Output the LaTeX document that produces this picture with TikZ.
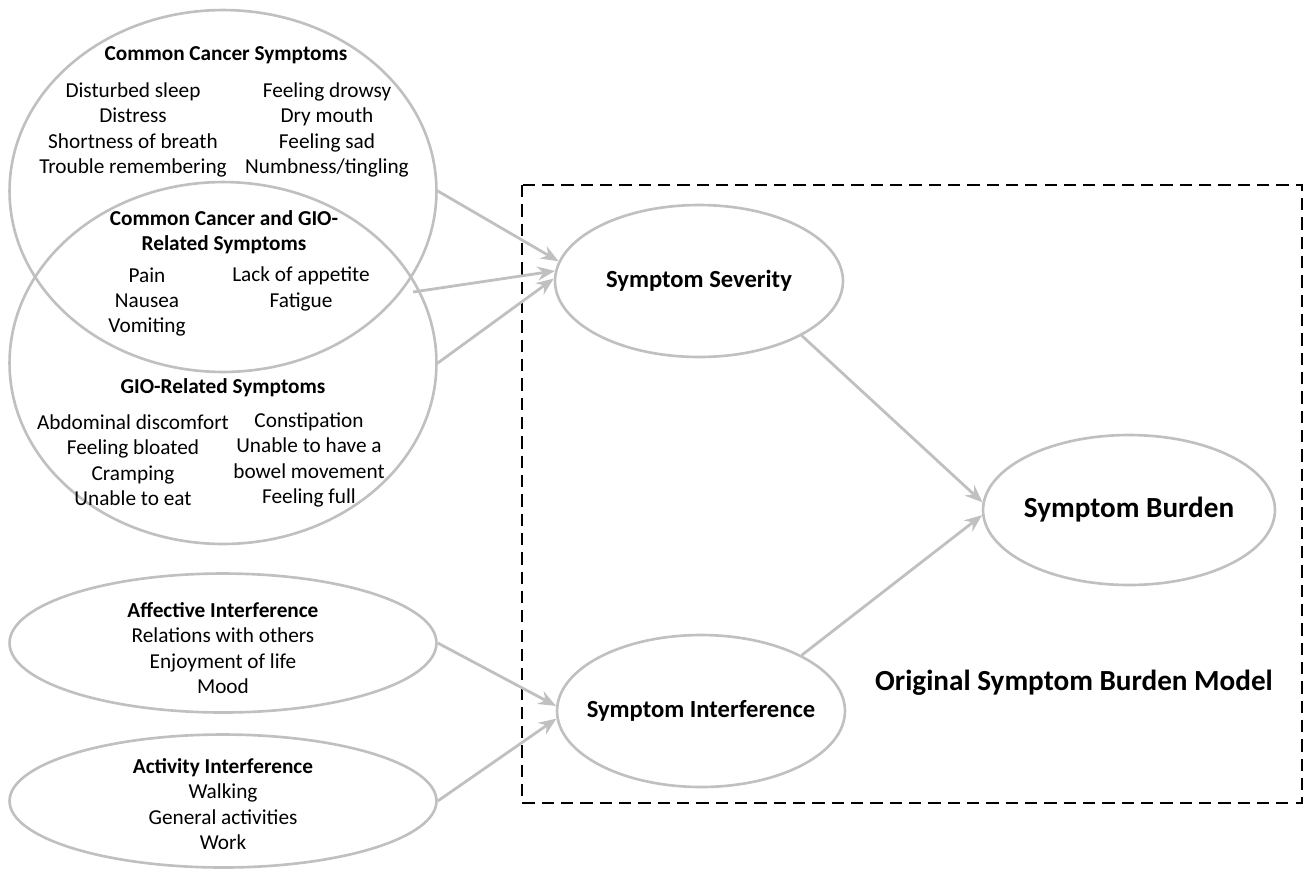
\documentclass[tikz,border=0pt]{standalone}
\usepackage{fontspec}
\setmainfont{Carlito}
\usepackage{xcolor}
\usetikzlibrary{positioning,shapes,arrows.meta}
\definecolor{linegray}{RGB}{192,192,192}
\tikzset{
  blob/.style={shape=ellipse, draw=linegray, line width=1.5pt, inner sep=0pt},
  listtext/.style={align=center, font=\fontsize{12.1}{14.5}\selectfont, inner sep=0pt},
  headtext/.style={align=center, font=\fontsize{12.1}{14.5}\selectfont\bfseries, inner sep=0pt},
  factorname/.style={font=\fontsize{14}{17}\selectfont\bfseries, inner sep=0pt},
  link/.style={draw=linegray, line width=1.6pt, -{Stealth[length=10pt,width=8pt]}},
  modelbox/.style={draw=black, line width=1.1pt, dash pattern=on 7pt off 4pt}
}

\begin{document}
\begin{tikzpicture}[x=0.02cm, y=-0.02cm]
  \useasboundingbox (0,0) rectangle (1304,870);

  % symptom circles
  \node[blob, minimum width=8.54cm, minimum height=7.24cm] (cancer) at (223,191) {};
  \node[blob, minimum width=8.54cm, minimum height=7.24cm] (gio) at (223,363) {};
  \coordinate (lens) at (413,292);

  \node[headtext] (cancerhead) at (226,55) {Common Cancer Symptoms};
  \node[listtext] (cancerL) at (133,130) {Disturbed sleep\\Distress\\Shortness of breath\\Trouble remembering};
  \node[listtext] (cancerR) at (327,130) {Feeling drowsy\\Dry mouth\\Feeling sad\\Numbness/tingling};

  \node[headtext] (bothhead) at (224,232) {Common Cancer and GIO-\\Related Symptoms};
  \node[listtext] (bothL) at (147,302) {Pain\\Nausea\\Vomiting};
  \node[listtext] (bothR) at (301,289) {Lack of appetite\\Fatigue};

  \node[headtext] (giohead) at (223,388) {GIO-Related Symptoms};
  \node[listtext] (gioL) at (133,460) {Abdominal discomfort\\Feeling bloated\\Cramping\\Unable to eat};
  \node[listtext] (gioR) at (309,460) {Constipation\\Unable to have a\\bowel movement\\Feeling full};

  % interference ellipses
  \node[blob, minimum width=8.54cm, minimum height=2.78cm] (affect) at (223,643) {};
  \node[listtext] (affecttext) at (223,648) {\textbf{Affective Interference}\\Relations with others\\Enjoyment of life\\Mood};
  \node[blob, minimum width=8.54cm, minimum height=2.66cm] (activity) at (223,801) {};
  \node[listtext] (activitytext) at (223,804) {\textbf{Activity Interference}\\Walking\\General activities\\Work};

  % original model
  \draw[modelbox] (522,185) rectangle (1302,803);
  \node[blob, minimum width=5.76cm, minimum height=3.04cm,
        label={[factorname]center:Symptom Severity}] (sev) at (699,281) {};
  \node[blob, minimum width=5.76cm, minimum height=3.04cm,
        label={[factorname]center:Symptom Interference}] (inter) at (701,711) {};
  \node[blob, minimum width=5.84cm, minimum height=3.0cm,
        label={[factorname, font=\fontsize{16.6}{20}\selectfont\bfseries]center:Symptom Burden}] (burden) at (1129,510) {};
  \node[font=\fontsize{16.6}{20}\selectfont\bfseries] (modelname) at (1074,683) {Original Symptom Burden Model};

  \draw[link] (cancer.east) -- (sev.172);
  \draw[link] (lens) -- (sev.176);
  \draw[link] (gio.east) -- (sev.179);
  \draw[link] (affect.east) -- (inter.178);
  \draw[link] (activity.east) -- (inter.183);
  \draw[link] (sev.-28) -- (burden.177);
  \draw[link] (inter.29) -- (burden.182);
\end{tikzpicture}
\end{document}
